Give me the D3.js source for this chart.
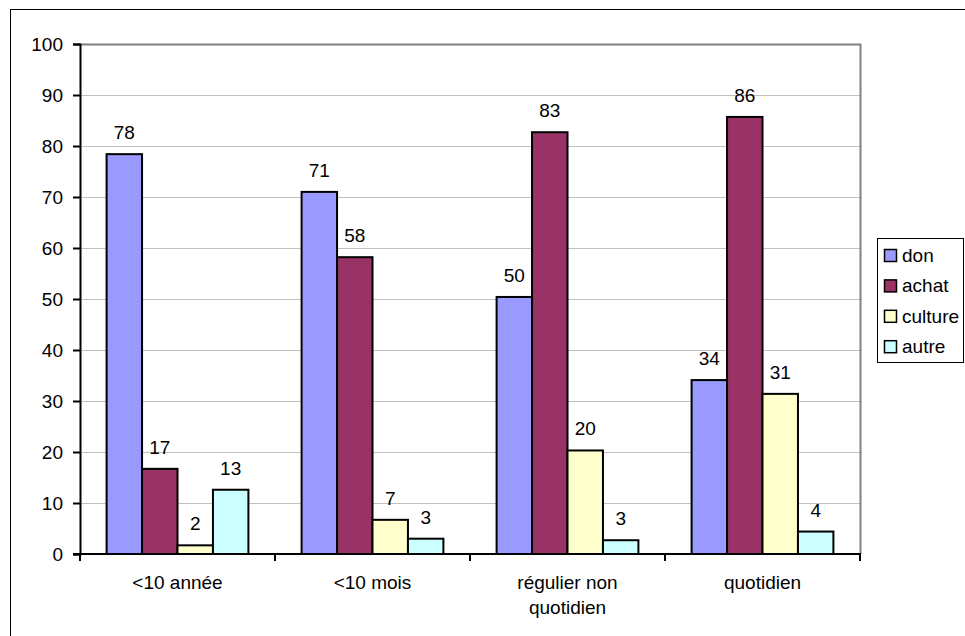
<!DOCTYPE html>
<html>
<head>
<meta charset="utf-8">
<script src="https://cdn.jsdelivr.net/npm/d3@7"></script>
<style>
  html, body { margin: 0; padding: 0; background: #fff; }
  svg { display: block; }
  text { font-family: "Liberation Sans", Arial, sans-serif; fill: #000; }
</style>
</head>
<body>
<svg id="chart" width="965" height="636"></svg>
<script>
// Categories (x groups) and series
const categories = ["<10 année", "<10 mois", "régulier non quotidien", "quotidien"];
const categoryLines = [["<10 année"], ["<10 mois"], ["régulier non", "quotidien"], ["quotidien"]];
const seriesNames = ["don", "achat", "culture", "autre"];
const seriesColors = ["#9999FF", "#993366", "#FFFFCC", "#CCFFFF"];

// Values per series, one entry per category
const don     = [78.4, 71.0, 50.4, 34.1];
const achat   = [16.7, 58.2, 82.7, 85.7];
const culture = [1.7, 6.7, 20.3, 31.4];
const autre   = [12.6, 3.0, 2.7, 4.4];
const seriesValues = [don, achat, culture, autre];

const yTicks = [0, 10, 20, 30, 40, 50, 60, 70, 80, 90, 100];

const FONT = 19;
const svg = d3.select("#chart");
const plot = { left: 80, right: 860, top: 44, bottom: 554 };

// Outer chart frame (only left and top edges fall inside the view)
svg.append("rect")
  .attr("x", 10.5).attr("y", 9.5)
  .attr("width", 1000).attr("height", 700)
  .attr("fill", "#fff").attr("stroke", "#000").attr("stroke-width", 1);

const x0 = d3.scaleBand().domain(categories).range([plot.left, plot.right]).padding(0);
const groupW = x0.bandwidth();
const barW = groupW / 5.5;
const x1 = d3.scaleBand().domain(seriesNames).range([barW * 0.75, barW * 4.75]);
const y = d3.scaleLinear().domain([0, 100]).range([plot.bottom, plot.top]);

// Horizontal gridlines
svg.append("g").selectAll("line").data(yTicks.filter(d => d > 0 && d < 100)).join("line")
  .attr("x1", plot.left).attr("x2", plot.right)
  .attr("y1", d => Math.round(y(d)) + 0.5).attr("y2", d => Math.round(y(d)) + 0.5)
  .attr("stroke", "#c0c0c0").attr("stroke-width", 1);

// Plot frame top and right
svg.append("path")
  .attr("d", `M${plot.left},${plot.top + 0.5}H${plot.right + 0.5}V${plot.bottom}`)
  .attr("fill", "none").attr("stroke", "#808080").attr("stroke-width", 2);

// Bars
const rows = categories.map((c, i) => ({ cat: c, vals: seriesNames.map((s, j) => ({ s, v: seriesValues[j][i], color: seriesColors[j] })) }));
const groups = svg.append("g").selectAll("g").data(rows).join("g")
  .attr("transform", d => `translate(${x0(d.cat)},0)`);

groups.selectAll("rect").data(d => d.vals).join("rect")
  .attr("x", d => x1(d.s))
  .attr("y", d => y(d.v))
  .attr("width", x1.bandwidth())
  .attr("height", d => y(0) - y(d.v))
  .attr("fill", d => d.color)
  .attr("stroke", "#000").attr("stroke-width", 2);

groups.selectAll("text").data(d => d.vals).join("text")
  .attr("x", d => x1(d.s) + x1.bandwidth() / 2)
  .attr("y", d => y(d.v) - 15)
  .attr("text-anchor", "middle")
  .attr("font-size", FONT)
  .text(d => d3.format(".0f")(d.v));

// Y axis
const yAxis = d3.axisLeft(y).tickValues(yTicks).tickSize(7).tickPadding(10);
const gy = svg.append("g").attr("transform", `translate(${plot.left},0)`).call(yAxis);
gy.select(".domain").attr("stroke", "#000").attr("stroke-width", 2);
gy.selectAll(".tick line").attr("stroke", "#000").attr("stroke-width", 2);
gy.selectAll(".tick text").attr("font-size", FONT).attr("font-family", "Liberation Sans, Arial, sans-serif");

// X axis with ticks at group boundaries
svg.append("line")
  .attr("x1", plot.left - 7).attr("x2", plot.right + 1)
  .attr("y1", plot.bottom).attr("y2", plot.bottom)
  .attr("stroke", "#000").attr("stroke-width", 2);
const boundaries = categories.map(c => x0(c)).concat([plot.right]);
svg.append("g").selectAll("line").data(boundaries).join("line")
  .attr("x1", d => d).attr("x2", d => d)
  .attr("y1", plot.bottom).attr("y2", plot.bottom + 7)
  .attr("stroke", "#000").attr("stroke-width", 2);

const xl = svg.append("g").selectAll("text").data(categories).join("text")
  .attr("x", (d) => x0(d) + groupW / 2)
  .attr("y", 589)
  .attr("text-anchor", "middle")
  .attr("font-size", FONT);
xl.each(function (d, i) {
  d3.select(this).selectAll("tspan").data(categoryLines[i]).join("tspan")
    .attr("x", x0(d) + groupW / 2)
    .attr("dy", (t, k) => k === 0 ? 0 : 25)
    .text(t => t);
});

// Legend
const lg = svg.append("g");
lg.append("rect").attr("x", 877.5).attr("y", 238.5).attr("width", 86).attr("height", 124)
  .attr("fill", "#fff").attr("stroke", "#000").attr("stroke-width", 1);
const items = lg.selectAll("g").data(seriesNames).join("g")
  .attr("transform", (d, i) => `translate(884,${255 + i * 30.4})`);
items.append("rect").attr("x", 0.5).attr("y", -5.5).attr("width", 12).attr("height", 12)
  .attr("fill", (d, i) => seriesColors[i]).attr("stroke", "#000").attr("stroke-width", 1.5);
items.append("text").attr("x", 18).attr("y", 7).attr("font-size", FONT).text(d => d);
</script>
</body>
</html>
